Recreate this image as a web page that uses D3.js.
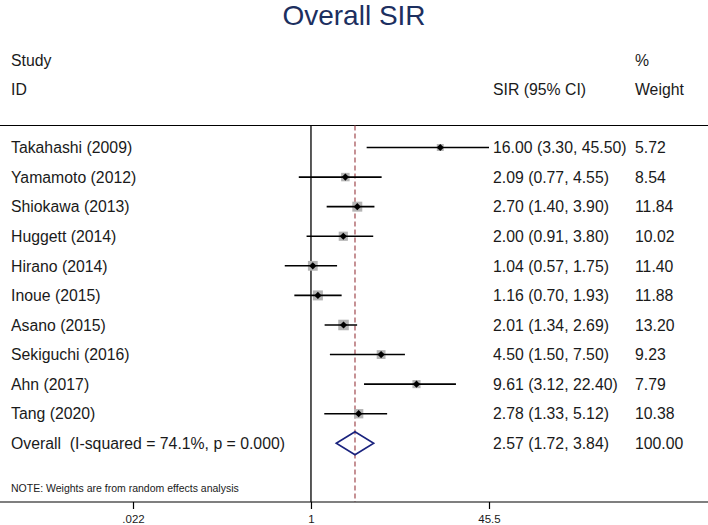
<!DOCTYPE html>
<html>
<head>
<meta charset="utf-8">
<script src="https://cdn.jsdelivr.net/npm/d3@7"></script>
<style>
  html, body { margin: 0; padding: 0; background: #fff; }
  svg { display: block; font-family: "Liberation Sans", Arial, sans-serif; }
  text { white-space: pre; }
</style>
</head>
<body>
<svg id="chart" width="708" height="525"></svg>
<script>
// ---- Data ----
const studies = ["Takahashi (2009)", "Yamamoto (2012)", "Shiokawa (2013)", "Huggett (2014)",
  "Hirano (2014)", "Inoue (2015)", "Asano (2015)", "Sekiguchi (2016)", "Ahn (2017)", "Tang (2020)"];
const sir   = [16.00, 2.09, 2.70, 2.00, 1.04, 1.16, 2.01, 4.50, 9.61, 2.78];
const lower = [3.30, 0.77, 1.40, 0.91, 0.57, 0.70, 1.34, 1.50, 3.12, 1.33];
const upper = [45.50, 4.55, 3.90, 3.80, 1.75, 1.93, 2.69, 7.50, 22.40, 5.12];
const weights = [5.72, 8.54, 11.84, 10.02, 11.40, 11.88, 13.20, 9.23, 7.79, 10.38];
const overallLabel = "Overall  (I-squared = 74.1%, p = 0.000)";
const overallSir = 2.57, overallLower = 1.72, overallUpper = 3.84, overallWeight = 100.00;
const tickValues = [0.022, 1, 45.5];
const tickLabels = [".022", "1", "45.5"];
const title = "Overall SIR";
const note = "NOTE: Weights are from random effects analysis";

// ---- Layout ----
const W = 708, H = 525;
const svg = d3.select("#chart");
const x = d3.scaleLog().domain([0.022, 45.5]).range([133, 489]);
const y = d3.scaleLinear().domain([0, 10]).range([147.5, 443.3]);
const f2 = d3.format(".2f");
const topY = 125.5, axisY = 502;
const fs = 15.8;

// Title
svg.append("text").attr("x", 354).attr("y", 24.5).attr("text-anchor", "middle")
  .attr("font-size", 28).attr("fill", "#1c2f5f").text(title);

// Headers
const hdr = svg.append("g").attr("font-size", fs).attr("fill", "#1a1a1a");
hdr.append("text").attr("x", 11).attr("y", 66).text("Study");
hdr.append("text").attr("x", 11).attr("y", 95).text("ID");
hdr.append("text").attr("x", 493).attr("y", 95).text("SIR (95% CI)");
hdr.append("text").attr("x", 635).attr("y", 66).text("%");
hdr.append("text").attr("x", 635).attr("y", 95).text("Weight");

// Top line
svg.append("line").attr("x1", 0).attr("x2", W).attr("y1", topY).attr("y2", topY)
  .attr("stroke", "#000").attr("stroke-width", 1.2);

// Null line at 1
svg.append("line").attr("x1", x(1)).attr("x2", x(1)).attr("y1", topY).attr("y2", axisY)
  .attr("stroke", "#000").attr("stroke-width", 1.3);

// Overall dashed line
svg.append("line").attr("x1", x(overallSir)).attr("x2", x(overallSir)).attr("y1", topY).attr("y2", axisY)
  .attr("stroke", "#a8575c").attr("stroke-width", 1.3).attr("stroke-dasharray", "5,3");

// Study rows
const rows = svg.append("g").selectAll("g").data(studies).join("g");
rows.append("rect")
  .attr("x", (d, i) => x(sir[i]) - 1.45 * Math.sqrt(weights[i]))
  .attr("y", (d, i) => y(i) - 1.45 * Math.sqrt(weights[i]))
  .attr("width", (d, i) => 2.9 * Math.sqrt(weights[i]))
  .attr("height", (d, i) => 2.9 * Math.sqrt(weights[i]))
  .attr("fill", "#b4b4b4");
rows.append("line")
  .attr("x1", (d, i) => x(lower[i])).attr("x2", (d, i) => x(upper[i]))
  .attr("y1", (d, i) => y(i)).attr("y2", (d, i) => y(i))
  .attr("stroke", "#000").attr("stroke-width", 1.6);
rows.append("path")
  .attr("d", (d, i) => {
    const cx = x(sir[i]), cy = y(i), r = 3.6;
    return `M${cx},${cy - r}L${cx + r},${cy}L${cx},${cy + r}L${cx - r},${cy}Z`;
  })
  .attr("fill", "#000");
rows.append("text").attr("x", 11).attr("y", (d, i) => y(i)).attr("dy", "0.36em")
  .attr("font-size", fs).attr("fill", "#1a1a1a").text(d => d);
rows.append("text").attr("x", 493).attr("y", (d, i) => y(i)).attr("dy", "0.36em")
  .attr("font-size", fs).attr("fill", "#1a1a1a")
  .text((d, i) => `${f2(sir[i])} (${f2(lower[i])}, ${f2(upper[i])})`);
rows.append("text").attr("x", 635).attr("y", (d, i) => y(i)).attr("dy", "0.36em")
  .attr("font-size", fs).attr("fill", "#1a1a1a")
  .text((d, i) => f2(weights[i]));

// Overall row
const oy = y(studies.length);
svg.append("path")
  .attr("d", `M${x(overallLower)},${oy}L${x(overallSir)},${oy - 11.5}L${x(overallUpper)},${oy}L${x(overallSir)},${oy + 11.5}Z`)
  .attr("fill", "none").attr("stroke", "#1a237e").attr("stroke-width", 1.6);
svg.append("text").attr("x", 11).attr("y", oy).attr("dy", "0.36em")
  .attr("font-size", fs).attr("fill", "#1a1a1a").attr("xml:space", "preserve").text(overallLabel);
svg.append("text").attr("x", 493).attr("y", oy).attr("dy", "0.36em")
  .attr("font-size", fs).attr("fill", "#1a1a1a")
  .text(`${f2(overallSir)} (${f2(overallLower)}, ${f2(overallUpper)})`);
svg.append("text").attr("x", 635).attr("y", oy).attr("dy", "0.36em")
  .attr("font-size", fs).attr("fill", "#1a1a1a").text(f2(overallWeight));

// Note
svg.append("text").attr("x", 11).attr("y", 488).attr("dy", "0.36em")
  .attr("font-size", 10.5).attr("fill", "#1a1a1a").text(note);

// Axis
svg.append("line").attr("x1", 0).attr("x2", W).attr("y1", axisY).attr("y2", axisY)
  .attr("stroke", "#000").attr("stroke-width", 1.2);
const axis = d3.axisBottom(x).tickValues(tickValues)
  .tickFormat((d, i) => tickLabels[i]).tickSize(7).tickPadding(6);
const ag = svg.append("g").attr("transform", `translate(0,${axisY})`).call(axis);
ag.select(".domain").remove();
ag.selectAll(".tick line").attr("stroke", "#000").attr("stroke-width", 1.2);
ag.selectAll(".tick text").attr("font-size", 11.5).attr("fill", "#1a1a1a")
  .attr("font-family", "Liberation Sans, Arial, sans-serif");
</script>
</body>
</html>
